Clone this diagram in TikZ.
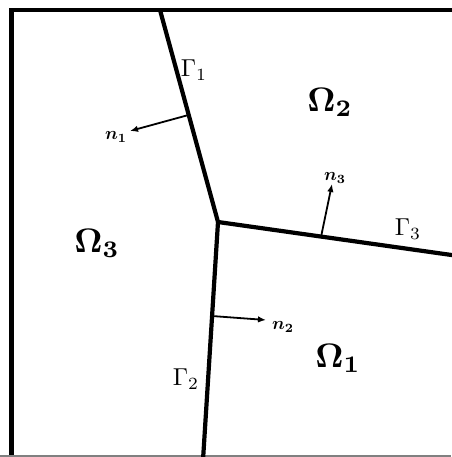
\documentclass[tikz,border=0pt]{standalone}
\usepackage{amsmath,bm}
\usetikzlibrary{arrows.meta,calc}
\begin{document}
\begin{tikzpicture}[x=1pt,y=-1pt,
  wall/.style={line width=4.2pt,line cap=rect},
  iface/.style={line width=4.2pt},
  nrm/.style={-{Latex[length=8pt,width=6.5pt]},line width=1.8pt},
  dom/.style={scale=3.4},
  gam/.style={scale=2.45},
  nlab/.style={scale=1.8}]
  \useasboundingbox (0,0) rectangle (451,457);
  % outer box
  \coordinate (tl) at (11.5,10);
  \coordinate (tr) at (455,10);
  \coordinate (bl) at (11.5,457);
  \draw[wall] (tr) -- (tl) -- (bl);
  \draw[gray,line width=1.5pt] (0,456) -- (451,456);
  % interfaces
  \coordinate (J) at (218,222);
  \coordinate (top) at (160,10);
  \coordinate (rgt) at (455,255.5);
  \coordinate (bot) at (203,460);
  \draw[iface] (top) -- (J) -- (rgt);
  \draw[iface] (J) -- (bot);
  % normals
  \coordinate (b1) at ($(top)!0.495!(J)$);
  \coordinate (b3) at ($(J)!0.435!(rgt)$);
  \coordinate (b2) at ($(J)!0.395!(bot)$);
  \coordinate (t1) at (130,131);
  \coordinate (t3) at (332,184);
  \coordinate (t2) at (266,320);
  \draw[nrm] (b1) -- (t1);
  \draw[nrm] (b3) -- (t3);
  \draw[nrm] (b2) -- (t2);
  \node[nlab] (n1) at (116,137) {$\bm{n}_{\mathbf{1}}$};
  \node[nlab] (n3) at (335,178) {$\bm{n}_{\mathbf{3}}$};
  \node[nlab] (n2) at (283,327) {$\bm{n}_{\mathbf{2}}$};
  % labels
  \node[gam] (g1) at (194,70) {$\Gamma_1$};
  \node[gam] (g2) at (186,379) {$\Gamma_2$};
  \node[gam] (g3) at (408,229) {$\Gamma_3$};
  \node[dom] (o2) at (330,102) {$\bm{\Omega}_{\mathbf{2}}$};
  \node[dom] (o3) at (97,243) {$\bm{\Omega}_{\mathbf{3}}$};
  \node[dom] (o1) at (338,358) {$\bm{\Omega}_{\mathbf{1}}$};
\end{tikzpicture}
\end{document}
